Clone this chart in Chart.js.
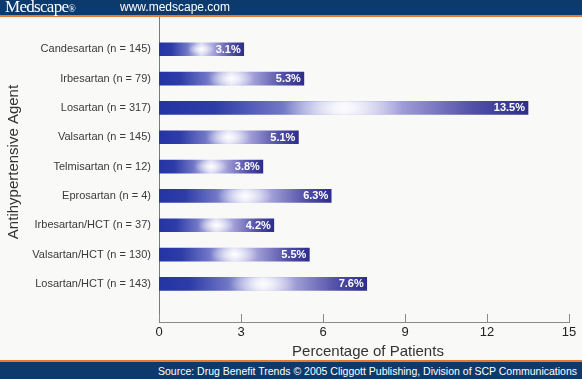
<!DOCTYPE html>
<html><head><meta charset="utf-8">
<script src="https://cdn.jsdelivr.net/npm/chart.js@4.4.0/dist/chart.umd.min.js"></script>
<style>
html,body{margin:0;padding:0;}
body{width:582px;height:379px;position:relative;overflow:hidden;background:#f9f9f7;font-family:"Liberation Sans",Arial,sans-serif;}
#cv{position:absolute;left:0;top:0;}
#hdr{position:absolute;left:0;top:0;width:582px;height:15px;background:#0c3a6c;border-bottom:2px solid #e8782a;z-index:2;}
#hdr .logo{position:absolute;left:5px;top:-2px;font-family:"Liberation Serif","DejaVu Serif",serif;font-size:17px;line-height:18px;color:#fff;letter-spacing:-0.7px;}
#hdr .logo sup{font-size:10px;vertical-align:0;letter-spacing:0;}
#hdr .url{position:absolute;left:120px;top:0;font-size:12px;line-height:15px;color:#fff;}
#ftr{position:absolute;left:0;top:360px;width:582px;height:18px;background:#0c3a6c;border-top:2px solid #e8782a;z-index:2;}
#ftr span{position:absolute;right:5px;top:3px;font-size:10.5px;line-height:13px;color:#fff;}
</style></head>
<body>
<div id="hdr"><span class="logo">Medscape<sup>®</sup></span><span class="url">www.medscape.com</span></div>
<canvas id="cv" width="582" height="379"></canvas>
<div id="ftr"><span>Source: Drug Benefit Trends © 2005 Cliggott Publishing, Division of SCP Communications</span></div>
<script>
const categories = ["Candesartan (n = 145)","Irbesartan (n = 79)","Losartan (n = 317)","Valsartan (n = 145)","Telmisartan (n = 12)","Eprosartan (n = 4)","Irbesartan/HCT (n = 37)","Valsartan/HCT (n = 130)","Losartan/HCT (n = 143)"];
const percentages = [3.1, 5.3, 13.5, 5.1, 3.8, 6.3, 4.2, 5.5, 7.6];
const xTicks = [0, 3, 6, 9, 12, 15];
const xTitle = "Percentage of Patients";
const yTitle = "Antihypertensive Agent";

const extras = {
  id: 'extras',
  afterDatasetsDraw(chart) {
    const ctx = chart.ctx;
    const meta = chart.getDatasetMeta(0);
    ctx.save();
    meta.data.forEach((el) => {
      const x0 = el.base, x1 = el.x;
      const cx = (x0 + x1) / 2, cy = el.y;
      const r = Math.max(12, (x1 - x0) * 0.16);
      ctx.save();
      ctx.beginPath();
      ctx.rect(x0, el.y - el.height / 2, x1 - x0, el.height);
      ctx.clip();
      ctx.translate(cx, cy);
      ctx.scale(1, 0.45);
      const g = ctx.createRadialGradient(0, 0, 0, 0, 0, r);
      g.addColorStop(0, 'rgba(255,255,255,0.95)');
      g.addColorStop(0.5, 'rgba(255,255,255,0.45)');
      g.addColorStop(1, 'rgba(255,255,255,0)');
      ctx.fillStyle = g;
      ctx.fillRect(-r, -r, 2 * r, 2 * r);
      ctx.restore();
    });
    ctx.font = 'bold 11px "Liberation Sans", Arial, sans-serif';
    ctx.fillStyle = '#ffffff';
    ctx.textAlign = 'right';
    ctx.textBaseline = 'middle';
    meta.data.forEach((el, i) => {
      ctx.fillText(percentages[i].toFixed(1) + '%', el.x - 3, el.y + 0.5);
    });
    ctx.restore();
  },
  afterDraw(chart) {
    const ctx = chart.ctx;
    const xs = chart.scales.x;
    const ca = chart.chartArea;
    ctx.save();
    ctx.strokeStyle = '#8a8a8a';
    ctx.lineWidth = 1;
    xTicks.forEach(v => {
      const px = Math.round(xs.getPixelForValue(v)) + 0.5;
      ctx.beginPath();
      ctx.moveTo(px, ca.bottom);
      ctx.lineTo(px, ca.bottom - 8);
      ctx.stroke();
    });
    ctx.fillStyle = '#333333';
    ctx.font = '15px "Liberation Sans", Arial, sans-serif';
    ctx.textAlign = 'center';
    ctx.textBaseline = 'middle';
    ctx.fillText(xTitle, 368, 352);
    ctx.translate(14, 162);
    ctx.rotate(-Math.PI / 2);
    ctx.font = '15px "Liberation Sans", Arial, sans-serif';
    ctx.fillText(yTitle, 0, 0);
    ctx.restore();
  }
};

function barFill(c) {
  const chart = c.chart;
  if (!chart.chartArea || c.type !== 'data') return '#2a3aa8';
  const xs = chart.scales.x;
  const x0 = xs.getPixelForValue(0);
  const x1 = xs.getPixelForValue(percentages[c.dataIndex]);
  const g = chart.ctx.createLinearGradient(x0, 0, x1, 0);
  g.addColorStop(0, '#2434a4');
  g.addColorStop(0.15, '#2e3ca8');
  g.addColorStop(0.33, '#7076c6');
  g.addColorStop(0.50, '#dcdcf4');
  g.addColorStop(0.64, '#a6a4da');
  g.addColorStop(0.85, '#5250a8');
  g.addColorStop(1, '#2e2d8c');
  return g;
}

new Chart(document.getElementById('cv'), {
  type: 'bar',
  data: {
    datasets: [{
      data: percentages.map((v, i) => ({x: v, y: i})),
      backgroundColor: barFill,
      borderWidth: 0,
      barThickness: 13
    }]
  },
  options: {
    indexAxis: 'y',
    responsive: false,
    animation: false,
    events: [],
    layout: {padding: {top: 17, right: 13, left: 0, bottom: 0}},
    plugins: {legend: {display: false}, tooltip: {enabled: false}},
    scales: {
      x: {
        type: 'linear', min: 0, max: 15, offset: false,
        afterBuildTicks: s => { s.ticks = xTicks.map(v => ({value: v})); },
        afterFit: s => { s.height = 57; },
        grid: {display: false, drawTicks: false, offset: false},
        border: {display: true, color: '#8a8a8a', width: 1},
        ticks: {color: '#222', padding: 3, font: {size: 13, family: '"Liberation Sans", Arial, sans-serif'}}
      },
      y: {
        type: 'linear', reverse: true, min: -1.10, max: 9.30, offset: false,
        afterBuildTicks: s => { s.ticks = categories.map((_, i) => ({value: i})); },
        afterFit: s => { s.width = 159; },
        grid: {display: false, drawTicks: false, offset: false},
        border: {display: true, color: '#7a7a7a', width: 1},
        ticks: {
          color: '#3a3a3a', padding: 8, autoSkip: false,
          font: {size: 11, family: '"Liberation Sans", Arial, sans-serif'},
          callback: v => categories[v] !== undefined ? categories[v] : ''
        }
      }
    }
  },
  plugins: [extras]
});
</script>
</body></html>
